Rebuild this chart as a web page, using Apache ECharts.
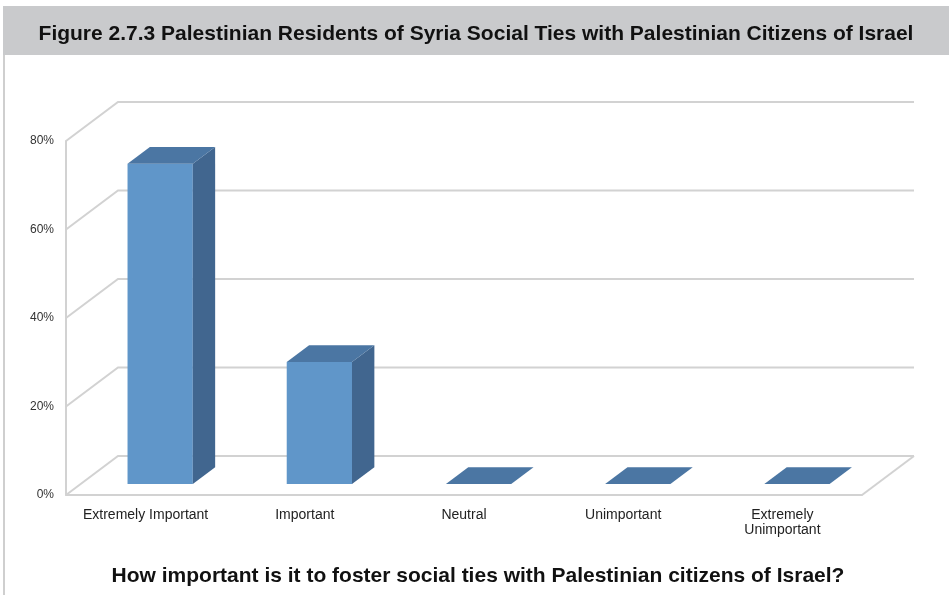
<!DOCTYPE html>
<html>
<head>
<meta charset="utf-8">
<script src="https://cdn.jsdelivr.net/npm/echarts@6/dist/echarts.min.js"></script>
<style>
html,body{margin:0;padding:0;background:#fff;}
#c{width:949px;height:595px;}
</style>
</head>
<body>
<div id="c"></div>
<script>
var categories = ['Extremely Important', 'Important', 'Neutral', 'Unimportant', 'Extremely\nUnimportant'];
var values = [72.4, 27.6, 0, 0, 0];
var yTicks = [0, 20, 40, 60, 80];
var titleText = 'Figure 2.7.3 Palestinian Residents of Syria Social Ties with Palestinian Citizens of Israel';
var xTitleText = 'How important is it to foster social ties with Palestinian citizens of Israel?';

var DX = 52, DY = -39;          // depth of the 3D box
var F0 = 0.28, F1 = 0.71;       // bar depth placement
var GRID = '#d2d2d2';

var chart = echarts.init(document.getElementById('c'), null, {renderer: 'canvas'});

function gridItem(params, api) {
  var v = api.value(1);
  var cs = params.coordSys;
  var y = api.coord([0, v])[1];
  var x0 = cs.x, x1 = cs.x + cs.width;
  var children = [
    {type: 'polyline', shape: {points: [[x0, y], [x0 + DX, y + DY], [x1 + DX, y + DY]]},
     style: {stroke: GRID, lineWidth: 2, fill: null}}
  ];
  if (v === 0) {
    children.push({type: 'line', shape: {x1: x1, y1: y, x2: x1 + DX, y2: y + DY},
      style: {stroke: GRID, lineWidth: 2}});
  }
  return {type: 'group', children: children};
}

function barItem(params, api) {
  var idx = api.value(0), v = api.value(1);
  var base = api.coord([idx, 0]);
  var top = api.coord([idx, v]);
  var bw = api.size([1, 0])[0] * 0.41;
  var cx = base[0] + F0 * DX;
  var L = cx - bw / 2, R = cx + bw / 2;
  var by = base[1] + F0 * DY, ty = top[1] + F0 * DY;
  var ddx = (F1 - F0) * DX, ddy = (F1 - F0) * DY;
  var children = [];
  if (v > 0) {
    children.push({type: 'rect', shape: {x: L, y: ty, width: bw, height: by - ty},
      style: {fill: '#6096c9'}});
    children.push({type: 'polygon', shape: {points: [[R, ty], [R + ddx, ty + ddy], [R + ddx, by + ddy], [R, by]]},
      style: {fill: '#41668f'}});
  }
  children.push({type: 'polygon', shape: {points: [[L, ty], [L + ddx, ty + ddy], [R + ddx, ty + ddy], [R, ty]]},
    style: {fill: '#4b76a3'}});
  return {type: 'group', children: children};
}

var option = {
  backgroundColor: '#ffffff',
  animation: false,
  graphic: [
    {type: 'rect', z: 0, shape: {x: 3, y: 6, width: 946, height: 49}, style: {fill: '#c9cacc'}},
    {type: 'line', z: 0, shape: {x1: 4, y1: 55, x2: 4, y2: 595}, style: {stroke: '#cfcfcf', lineWidth: 2}}
  ],
  title: [
    {text: titleText, left: 471, top: 19, textAlign: 'center',
     textStyle: {fontFamily: 'Liberation Sans', fontWeight: 'bold', fontSize: 21, color: '#111'}},
    {text: xTitleText, left: 473, top: 561, textAlign: 'center',
     textStyle: {fontFamily: 'Liberation Sans', fontWeight: 'bold', fontSize: 21, color: '#111'}}
  ],
  grid: {left: 66, right: 87, top: 141, bottom: 100, containLabel: false},
  xAxis: {
    type: 'category', data: categories,
    axisLine: {show: true, lineStyle: {color: GRID, width: 2}},
    axisTick: {show: false},
    axisLabel: {interval: 0, margin: 13, fontFamily: 'Liberation Sans', fontSize: 14, color: '#222', lineHeight: 15}
  },
  yAxis: {
    type: 'value', min: 0, max: 80, interval: 20,
    axisLine: {show: true, lineStyle: {color: GRID, width: 2}},
    axisTick: {show: false},
    splitLine: {show: false},
    axisLabel: {margin: 12, fontFamily: 'Liberation Sans', fontSize: 12, color: '#333',
      formatter: function (v) { return v + '%'; }}
  },
  series: [
    {type: 'custom', renderItem: gridItem, silent: true, z: 1,
     data: yTicks.map(function (t) { return [0, t]; })},
    {type: 'custom', renderItem: barItem, z: 3,
     data: values.map(function (v, i) { return [i, v]; })}
  ]
};
chart.setOption(option);
</script>
</body>
</html>
